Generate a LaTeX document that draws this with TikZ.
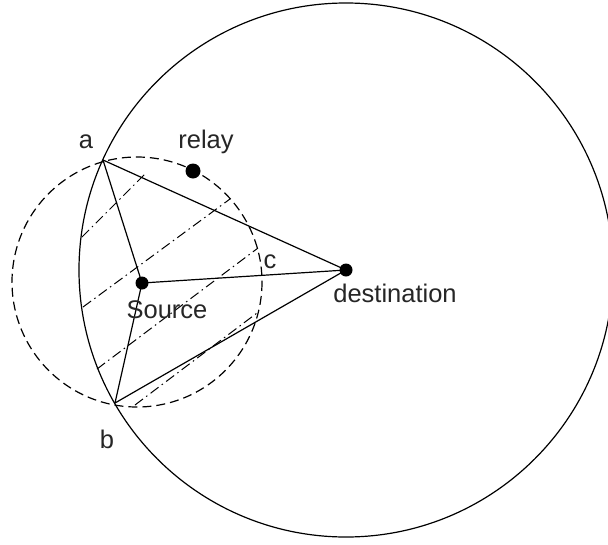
\documentclass[tikz,border=0pt]{standalone}
\usepackage{fontspec}
\setmainfont{Liberation Sans}
\begin{document}
\begin{tikzpicture}[x=1pt,y=-1pt,line width=1.2pt,
  dot/.style={circle,fill=black,inner sep=0pt,minimum size=13pt},
  lbl/.style={anchor=base,inner sep=0pt,text=black!85,font=\fontsize{25.5}{25.5}\selectfont},
  hatch/.style={line width=1pt,dash pattern=on 10pt off 4pt on 1.5pt off 4pt},
  dashcirc/.style={line width=1.2pt,dash pattern=on 9pt off 5pt},
  link/.style={line width=1.2pt}]
\useasboundingbox[fill=white] (0,0) rectangle (608,544);
% circles
\draw[link] (346,270) circle[radius=267];
\draw[dashcirc] (137,282) circle[radius=125];
% points
\coordinate (a) at (103,160);
\coordinate (b) at (115,403);
\node[dot] (src) at (142,283) {};
\node[dot] (dst) at (346,270) {};
\node[dot,minimum width=13pt,minimum height=15pt] (rel) at (193,171) {};
% hatching
\draw[hatch] (82,237) -- (147,172);
\draw[hatch] (83,307) -- (230,199);
\draw[hatch] (97,369) -- (258,248);
\draw[hatch] (135,405) -- (257,313);
% connectors
\draw[link] (a) -- (dst.center);
\draw[link] (b) -- (dst.center);
\draw[link] (a) -- (src.center);
\draw[link] (src.center) -- (b);
\draw[link] (src.center) -- (dst.center);
% labels
\node[lbl] (la) at (86,148) {a};
\node[lbl] (lb) at (107,448) {b};
\node[lbl] (lc) at (270,268) {c};
\node[lbl] (lrel) at (206,148) {relay};
\node[lbl] (lsrc) at (167,318) {Source};
\node[lbl] (ldst) at (395,302) {destination};
\end{tikzpicture}
\end{document}
